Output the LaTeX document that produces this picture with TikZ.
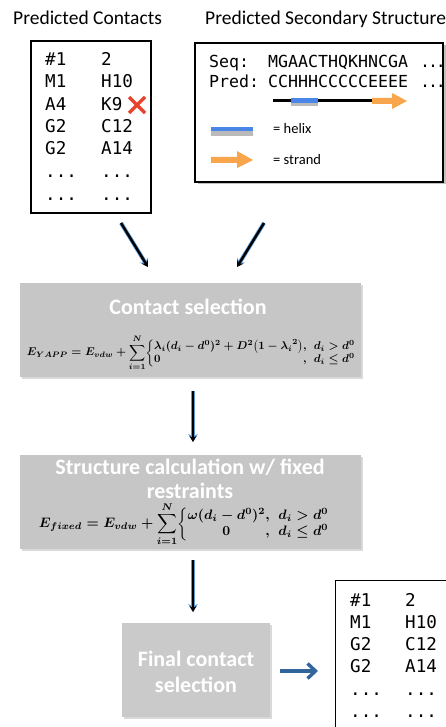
\documentclass[tikz,border=0pt]{standalone}
\usepackage{amsmath}
\usepackage[no-math]{fontspec}
\setmainfont{Carlito}
\setmonofont{DejaVu Sans Mono}
\usetikzlibrary{arrows.meta,shadows}
\definecolor{boxgray}{HTML}{C6C6C6}
\definecolor{boxgraylight}{HTML}{CACACA}
\definecolor{glowblue}{HTML}{5B9BD5}
\definecolor{arrblue}{HTML}{31659C}
\definecolor{helixblue}{HTML}{4A86E8}
\definecolor{strandorange}{HTML}{F8A54B}
\definecolor{xred}{HTML}{E8432C}
\newcommand{\tightdots}{.\kern-2.2pt.\kern-2.2pt.}
\tikzset{
  plainbox/.style={draw=black, line width=1.3pt, fill=white, inner sep=0},
  shadowed/.style={drop shadow={shadow xshift=2.5pt, shadow yshift=-2.5pt, opacity=0.35, fill=black!70}},
  graybox/.style={fill=boxgray, draw=none, inner sep=0, drop shadow={shadow xshift=1.5pt, shadow yshift=-2pt, opacity=0.25, fill=black!60}},
  headtxt/.style={font=\fontsize{19.5}{23}\selectfont, anchor=base west, inner sep=0},
  monotxt/.style={font=\ttfamily\fontsize{17.6}{20}\selectfont, anchor=base west, inner sep=0},
  seqtxt/.style={font=\ttfamily\fontsize{16.6}{19}\selectfont, anchor=base west, inner sep=0},
  legtxt/.style={font=\fontsize{14.5}{17}\selectfont, anchor=base west, inner sep=0},
  boxtitle/.style={font=\bfseries\fontsize{22}{26}\selectfont, text=white, anchor=base, inner sep=0},
  eqtxt/.style={inner sep=0},
  glowarrow/.style={draw=black, line width=2.4pt, -{Stealth[length=6pt,width=7pt]},
     preaction={draw=glowblue, line width=4pt, -{Stealth[length=8pt,width=9.5pt]}}},
  bluearrow/.style={draw=arrblue, line width=3.4pt, -{Straight Barb[length=8pt,width=15pt]}}
}
\begin{document}
\begin{tikzpicture}[x=1pt,y=-1pt]
\useasboundingbox (0,0) rectangle (446,727);
\clip (0,0) rectangle (446,727);

% titles
\node[headtxt] (t1) at (13,25) {Predicted Contacts};
\node[headtxt] (t2) at (205,25) {Predicted Secondary Structure};

% predicted contacts box
\node[plainbox, minimum width=120pt, minimum height=172pt] (contacts) at (91,127) {};
\node[monotxt] (c1a) at (45,66) {\#1};   \node[monotxt] (c1b) at (101,66) {2};
\node[monotxt] (c2a) at (45,88) {M1};    \node[monotxt] (c2b) at (101,88) {H10};
\node[monotxt] (c3a) at (45,110.5) {A4}; \node[monotxt] (c3b) at (101,110.5) {K9};
\node[monotxt] (c4a) at (45,133) {G2};   \node[monotxt] (c4b) at (101,133) {C12};
\node[monotxt] (c5a) at (45,155) {G2};   \node[monotxt] (c5b) at (101,155) {A14};
\node[monotxt] (c6a) at (45,178) {...};  \node[monotxt] (c6b) at (101,178) {...};
\node[monotxt] (c7a) at (45,200.5) {...};\node[monotxt] (c7b) at (101,200.5) {...};
\draw[xred, line width=3.3pt] (129,97) -- (145,113) (145,97) -- (129,113);

% secondary structure box
\node[plainbox, shadowed, minimum width=248pt, minimum height=139pt] (ssbox) at (319,112.5) {};
\node[seqtxt] (sq1) at (209,68) {Seq:};
\node[seqtxt] (sq2) at (268,68) {MGAACTHQKHNCGA};
\node[seqtxt] (sq3) at (420,68) {\tightdots};
\node[seqtxt] (pr1) at (209,88) {Pred:};
\node[seqtxt] (pr2) at (268,88) {CCHHHCCCCCEEEE};
\node[seqtxt] (pr3) at (420,88) {\tightdots};
\draw[line width=3pt] (273,101) -- (373,101);
\draw[line width=5pt, black!45, opacity=0.6] (291,104) -- (318,104);
\draw[line width=5pt, helixblue] (291,101) -- (318,101);
\fill[strandorange] (372,98) -- (392,98) -- (392,93) -- (407,101) -- (392,109) -- (392,104) -- (372,104) -- cycle;
% legend
\draw[line width=6pt, black!45, opacity=0.6] (211,133) -- (253,133);
\draw[line width=4.5pt, helixblue] (211,129) -- (253,129);
\node[legtxt] (lg1) at (273,134) {= helix};
\fill[strandorange] (211,157) -- (237,157) -- (237,151) -- (253,160) -- (237,168) -- (237,163) -- (211,163) -- cycle;
\node[legtxt] (lg2) at (273,165) {= strand};

% arrows into contact selection
\coordinate (a1s) at (121,223); \coordinate (a1e) at (148,267);
\coordinate (a2s) at (264,223); \coordinate (a2e) at (237,267);
\draw[glowarrow] (a1s) -- (a1e);
\draw[glowarrow] (a2s) -- (a2e);

% contact selection box
\node[graybox, minimum width=341pt, minimum height=94pt] (box1) at (190.5,330) {};
\node[boxtitle] (b1t) at (188,314) {Contact selection};
\node[eqtxt] (eq1) at (191.5,353) {\resizebox{329pt}{!}{\boldmath$\displaystyle
  E_{YAPP} = E_{vdw} + \sum_{i=1}^{N}\!\left\{\begin{array}{@{}l@{}l@{\;\;}l@{}}
  \lambda_i(d_i - d^0)^2 + D^2\!\left(1-{\lambda_i}^2\right) & , & d_i > d^0\\
  0 & , & d_i \le d^0\end{array}\right.$}};

\coordinate (a3s) at (193,391); \coordinate (a3e) at (193,442);
\draw[glowarrow] (a3s) -- (a3e);

% structure calculation box
\node[graybox, minimum width=341pt, minimum height=94pt] (box2) at (190.5,502) {};
\node[boxtitle] (b2t) at (190,474) {Structure calculation w/ fixed};
\node[boxtitle] (b2u) at (190,498) {restraints};
\node[eqtxt] (eq2) at (184.5,524) {\resizebox{291pt}{!}{\boldmath$\displaystyle
  E_{fixed} = E_{vdw} + \sum_{i=1}^{N}\!\left\{\begin{array}{@{}c@{}l@{\;\;}l@{}}
  \omega(d_i - d^0)^2 & , & d_i > d^0\\
  0 & , & d_i \le d^0\end{array}\right.$}};

\coordinate (a4s) at (193,560); \coordinate (a4e) at (193,612);
\draw[glowarrow] (a4s) -- (a4e);

% final contact selection
\node[graybox, fill=boxgraylight, minimum width=148pt, minimum height=94pt] (box3) at (196,670) {};
\node[boxtitle] (b3t) at (196,666) {Final contact};
\node[boxtitle] (b3u) at (196,692) {selection};

\coordinate (a5s) at (280,671); \coordinate (a5e) at (318,671);
\draw[bluearrow] (a5s) -- (a5e);

% final contacts box
\node[plainbox, anchor=north west, minimum width=130pt, minimum height=170pt] (final) at (335,580) {};
\node[monotxt] (f1a) at (350,606) {\#1};  \node[monotxt] (f1b) at (405,606) {2};
\node[monotxt] (f2a) at (350,628) {M1};   \node[monotxt] (f2b) at (405,628) {H10};
\node[monotxt] (f3a) at (350,650) {G2};   \node[monotxt] (f3b) at (405,650) {C12};
\node[monotxt] (f4a) at (350,672) {G2};   \node[monotxt] (f4b) at (405,672) {A14};
\node[monotxt] (f5a) at (350,695) {...};  \node[monotxt] (f5b) at (405,695) {...};
\node[monotxt] (f6a) at (350,717) {...};  \node[monotxt] (f6b) at (405,717) {...};
\end{tikzpicture}
\end{document}
